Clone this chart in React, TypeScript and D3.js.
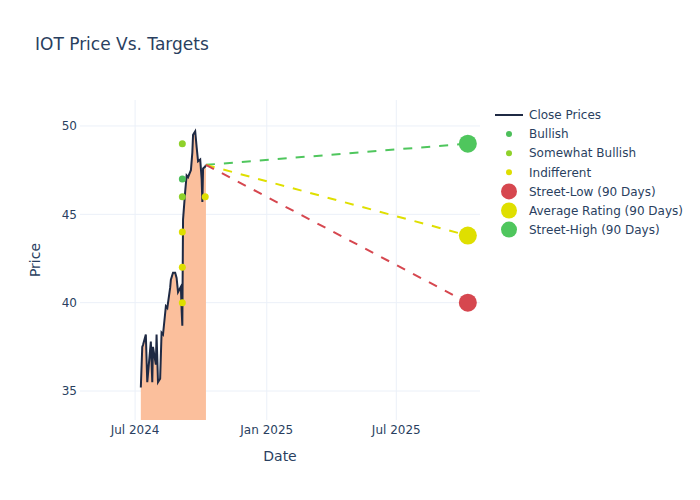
import React from "react";
import * as d3 from "d3";

const closeDates = [
  "2024-07-09","2024-07-11","2024-07-12","2024-07-16","2024-07-18","2024-07-23","2024-07-25","2024-07-26",
  "2024-07-30","2024-07-31","2024-08-02","2024-08-05","2024-08-07","2024-08-09","2024-08-13","2024-08-15",
  "2024-08-19","2024-08-20","2024-08-23","2024-08-26","2024-08-28","2024-08-30","2024-09-03","2024-09-04",
  "2024-09-05","2024-09-06","2024-09-09","2024-09-11","2024-09-13","2024-09-16","2024-09-17","2024-09-19",
  "2024-09-20","2024-09-23","2024-09-25","2024-09-27","2024-09-30","2024-10-02","2024-10-03","2024-10-04",
  "2024-10-07","2024-10-08",
];
const closePrices = [
  35.2, 37.5, 37.6, 38.2, 35.5, 37.8, 35.5, 37.5,
  36.5, 38.2, 35.5, 35.7, 38.3, 38.2, 39.8, 39.7,
  40.85, 41.3, 41.7, 41.7, 41.4, 40.6, 40.9, 39.6,
  38.7, 44.7, 46.3, 47.2, 47.1, 47.4, 47.5, 48.5,
  49.5, 49.7, 48.8, 48.0, 48.1, 47.0, 45.7, 47.6,
  47.7, 47.8,
];

const bullishDates = ["2024-09-05"];
const bullishValues = [47];
const somewhatBullishDates = ["2024-09-05", "2024-09-05"];
const somewhatBullishValues = [49, 46];
const indifferentDates = ["2024-09-05", "2024-09-05", "2024-09-05", "2024-10-07"];
const indifferentValues = [44, 42, 40, 46];

const targetDate = "2025-10-09";
const streetLow = 40;
const averageRating = 43.8;
const streetHigh = 49;

const xDomain = ["2024-04-15", "2025-10-26"];
const yDomain = [33.36, 51.47];
const yTicks = [35, 40, 45, 50];
const xTicks = ["2024-07-01", "2025-01-01", "2025-07-01"];
const xTickLabels = ["Jul 2024", "Jan 2025", "Jul 2025"];

const legendLabels = [
  "Close Prices",
  "Bullish",
  "Somewhat Bullish",
  "Indifferent",
  "Street-Low (90 Days)",
  "Average Rating (90 Days)",
  "Street-High (90 Days)",
];

const C = {
  text: "#2a3f5f",
  grid: "#ebf0f8",
  line: "#1f2a44",
  fill: "#fbbf9c",
  bullish: "#4cbf5a",
  somewhat: "#8fd12a",
  indiff: "#dede00",
  low: "#d6474f",
  avg: "#dfdf00",
  high: "#4fc65d",
};

const FONT = "'DejaVu Sans', sans-serif";

export default function App() {
  const W = 700, H = 500;
  const L = 80, R = 480, T = 100, B = 420;
  const parse = (s: string) => new Date(s + "T00:00:00Z");
  const x = d3.scaleUtc().domain(xDomain.map(parse)).range([L, R]);
  const y = d3.scaleLinear().domain(yDomain).range([B, T]);

  const pts = closeDates.map((d, i) => ({ d: parse(d), v: closePrices[i] }));
  const line = d3.line<any>().x((p) => x(p.d)).y((p) => y(p.v));
  const area = d3.area<any>().x((p) => x(p.d)).y0(y(0)).y1((p) => y(p.v));
  const last = pts[pts.length - 1];
  const tx = x(parse(targetDate));

  const legendY0 = 115, legendStep = 19.1;
  const legendColors = [C.line, C.bullish, C.somewhat, C.indiff, C.low, C.avg, C.high];

  return (
    <svg width={W} height={H} style={{ display: "block", position: "absolute", left: 0, top: 0 }} fontFamily={FONT}>
      <rect width={W} height={H} fill="#fff" />
      <defs>
        <clipPath id="plot">
          <rect x={L} y={T} width={R - L} height={B - T} />
        </clipPath>
      </defs>
      {xTicks.map((t) => (
        <line key={t} x1={x(parse(t))} x2={x(parse(t))} y1={T} y2={B} stroke={C.grid} strokeWidth={1} />
      ))}
      {yTicks.map((t) => (
        <line key={t} x1={L} x2={R} y1={y(t)} y2={y(t)} stroke={C.grid} strokeWidth={1} />
      ))}
      <g clipPath="url(#plot)">
        <path d={area(pts) || ""} fill={C.fill} />
        <path d={line(pts) || ""} fill="none" stroke={C.line} strokeWidth={2} />
        {[
          [streetHigh, C.high],
          [averageRating, C.avg],
          [streetLow, C.low],
        ].map(([v, c]: any) => (
          <line key={c} x1={x(last.d)} y1={y(last.v)} x2={tx} y2={y(v)} stroke={c} strokeWidth={2} strokeDasharray="9,9" />
        ))}
        {bullishDates.map((d, i) => (
          <circle key={"b" + i} cx={x(parse(d))} cy={y(bullishValues[i])} r={3.5} fill={C.bullish} />
        ))}
        {somewhatBullishDates.map((d, i) => (
          <circle key={"s" + i} cx={x(parse(d))} cy={y(somewhatBullishValues[i])} r={3.5} fill={C.somewhat} />
        ))}
        {indifferentDates.map((d, i) => (
          <circle key={"i" + i} cx={x(parse(d))} cy={y(indifferentValues[i])} r={3.5} fill={C.indiff} />
        ))}
        <circle cx={tx} cy={y(streetLow)} r={9} fill={C.low} />
        <circle cx={tx} cy={y(averageRating)} r={9} fill={C.avg} />
        <circle cx={tx} cy={y(streetHigh)} r={9} fill={C.high} />
      </g>
      {yTicks.map((t) => (
        <text key={t} x={L - 3} y={y(t)} dy="0.35em" textAnchor="end" fontSize={12} fill={C.text}>
          {t}
        </text>
      ))}
      {xTicks.map((t, i) => (
        <text key={t} x={x(parse(t))} y={434} textAnchor="middle" fontSize={12} fill={C.text}>
          {xTickLabels[i]}
        </text>
      ))}
      <text x={(L + R) / 2} y={461} textAnchor="middle" fontSize={14} fill={C.text}>Date</text>
      <text transform={`translate(40,${(T + B) / 2}) rotate(-90)`} textAnchor="middle" fontSize={14} fill={C.text}>Price</text>
      <text x={35} y={50} fontSize={17} fill={C.text}>IOT Price Vs. Targets</text>
      {legendLabels.map((lab, i) => {
        const ly = legendY0 + i * legendStep;
        return (
          <g key={lab}>
            {i === 0 ? (
              <line x1={495} x2={523} y1={ly} y2={ly} stroke={C.line} strokeWidth={2} />
            ) : (
              <circle cx={509} cy={ly} r={i <= 3 ? 3 : 8} fill={legendColors[i]} />
            )}
            <text x={529} y={ly} dy="0.35em" fontSize={12} fill={C.text}>{lab}</text>
          </g>
        );
      })}
    </svg>
  );
}
